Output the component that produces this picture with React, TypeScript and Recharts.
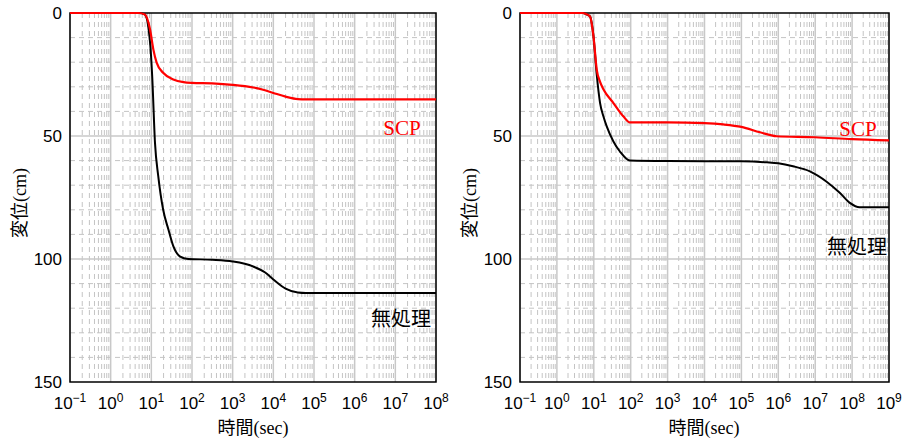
import {
  LineChart,
  Line,
  XAxis,
  YAxis,
  CartesianGrid,
  ReferenceArea,
} from "recharts";

// time in seconds, displacement in cm
const leftScpTime = [0.1, 5, 6.9, 9.3, 11.2, 13.5, 19.5, 34.7, 61.7, 100, 316, 1000, 3200, 5600, 1e4, 2e4, 4e4, 6.3e4, 1e8];
const leftScpDisp = [0, 0, 0.6, 6.7, 14.8, 20.2, 24.3, 27, 28.1, 28.4, 28.6, 29.2, 30.3, 31.2, 32.5, 34, 35, 35.1, 35.1];

const leftRawTime = [0.1, 5, 6.9, 9.3, 10.5, 12.3, 14.8, 19.5, 26.3, 34.7, 50, 81, 316, 1000, 3160, 6300, 1e4, 2e4, 4e4, 6.3e4, 1e8];
const leftRawDisp = [0, 0, 0.6, 12, 25.7, 52.8, 66.3, 79.9, 88, 94.8, 98.9, 100, 100.3, 101, 103, 105.5, 108.3, 112, 113.6, 113.8, 113.8];

const rightScpTime = [0.1, 5, 6.3, 7.9, 9.8, 12, 14.8, 18.2, 34, 63, 95, 1000, 1e4, 3.2e4, 1e5, 3.2e5, 9e5, 1e7, 1e8, 1e9];
const rightScpDisp = [0, 0, 0.5, 1.4, 9.5, 23, 28, 31, 36.6, 42, 44.5, 44.5, 44.8, 45.3, 46.3, 48.5, 50.1, 50.5, 51.3, 51.8];

const rightRawTime = [0.1, 5, 6.3, 7.9, 9.8, 12, 14.8, 18.2, 22.4, 34, 51, 95, 1000, 1e5, 4.9e5, 1e6, 2.5e6, 7.2e6, 2e7, 4.7e7, 8.7e7, 1.6e8, 1e9];
const rightRawDisp = [0, 0, 0.5, 1.4, 9.5, 25, 36.6, 42, 46.1, 52.2, 56.3, 60, 60.2, 60.3, 60.7, 61.1, 62.3, 64.4, 68.5, 73.2, 77.2, 79, 79];

const yTicks = [0, 50, 100, 150];
const leftDecades = [-1, 0, 1, 2, 3, 4, 5, 6, 7, 8];
const rightDecades = [-1, 0, 1, 2, 3, 4, 5, 6, 7, 8, 9];

const SERIF = '"Liberation Serif", "Noto Sans CJK JP", serif';
const SANS = '"Liberation Sans", Arial, sans-serif';

const toRows = (t: number[], d: number[]) => t.map((time, i) => ({ time, disp: d[i] }));

function XTick({ x, y, payload }: any) {
  const e = Math.round(Math.log10(payload.value));
  const label = e < 0 ? "\u2212" + Math.abs(e) : String(e);
  return (
    <text x={x} y={y + 19} textAnchor="middle" fontSize={17} fontFamily={SANS} fill="#000">
      <tspan>10</tspan>
      <tspan dy={-7} fontSize={12}>{label}</tspan>
    </text>
  );
}

function YTick({ x, y, payload }: any) {
  return (
    <text x={x} y={y + 6} textAnchor="end" fontSize={17} fontFamily={SANS} fill="#000">
      {payload.value}
    </text>
  );
}

function Panel({
  decades,
  scp,
  raw,
  width,
  yAxisWidth,
  rightMargin,
}: {
  decades: number[];
  scp: { time: number; disp: number }[];
  raw: { time: number; disp: number }[];
  width: number;
  yAxisWidth: number;
  rightMargin: number;
}) {
  const major = decades.map((d) => Math.pow(10, d));
  const minor: number[] = [];
  decades.slice(0, -1).forEach((d) => {
    for (let k = 2; k <= 9; k++) minor.push(k * Math.pow(10, d));
  });
  const xMin = major[0];
  const xMax = major[major.length - 1];
  return (
    <LineChart
      width={width}
      height={443}
      margin={{ top: 13, right: rightMargin, left: 0, bottom: 0 }}
    >
      <CartesianGrid
        stroke="#c4c4c4"
        strokeDasharray="5 4"
        horizontalValues={[10, 20, 30, 40, 60, 70, 80, 90, 110, 120, 130, 140]}
        verticalValues={minor}
      />
      <CartesianGrid
        stroke="#c8c8c8"
        strokeWidth={1.5}
        horizontalValues={[50, 100]}
        verticalValues={major}
      />
      <XAxis
        dataKey="time"
        type="number"
        scale="log"
        domain={[xMin, xMax]}
        ticks={major}
        allowDataOverflow
        height={61}
        axisLine={false}
        tickLine={false}
        tick={<XTick />}
        interval={0}
      />
      <YAxis
        dataKey="disp"
        type="number"
        domain={[0, 150]}
        ticks={yTicks}
        reversed
        width={yAxisWidth}
        axisLine={false}
        tickLine={false}
        tick={<YTick />}
        interval={0}
      />
      <ReferenceArea
        x1={xMin}
        x2={xMax}
        y1={0}
        y2={150}
        fill="none"
        stroke="#000"
        strokeWidth={1.5}
        ifOverflow="visible"
      />
      <Line
        data={raw}
        dataKey="disp"
        type="monotone"
        stroke="#000"
        strokeWidth={2}
        dot={false}
        isAnimationActive={false}
      />
      <Line
        data={scp}
        dataKey="disp"
        type="monotone"
        stroke="#ff0000"
        strokeWidth={2.2}
        dot={false}
        isAnimationActive={false}
      />
    </LineChart>
  );
}

const abs = (left: number, top: number, extra: any = {}) => ({
  position: "absolute" as const,
  left,
  top,
  transform: "translate(-50%, -50%)",
  whiteSpace: "nowrap" as const,
  fontFamily: SERIF,
  lineHeight: 1,
  ...extra,
});

export default function App() {
  return (
    <div style={{ position: "absolute", left: 0, top: 0, width: 917, height: 443, background: "#fff" }}>
      <div style={{ position: "absolute", left: 0, top: 0 }}>
        <Panel
          decades={leftDecades}
          scp={toRows(leftScpTime, leftScpDisp)}
          raw={toRows(leftRawTime, leftRawDisp)}
          width={460}
          yAxisWidth={70}
          rightMargin={24}
        />
      </div>
      <div style={{ position: "absolute", left: 460, top: 0 }}>
        <Panel
          decades={rightDecades}
          scp={toRows(rightScpTime, rightScpDisp)}
          raw={toRows(rightRawTime, rightRawDisp)}
          width={457}
          yAxisWidth={60}
          rightMargin={28}
        />
      </div>
      <div style={abs(20, 203, { fontSize: 18, transform: "translate(-50%, -50%) rotate(-90deg)" })}>変位(cm)</div>
      <div style={abs(470, 203, { fontSize: 18, transform: "translate(-50%, -50%) rotate(-90deg)" })}>変位(cm)</div>
      <div style={abs(253, 428, { fontSize: 18 })}>時間(sec)</div>
      <div style={abs(704, 428, { fontSize: 18 })}>時間(sec)</div>
      <div style={abs(402, 128, { fontSize: 21, color: "#ff0000" })}>SCP</div>
      <div style={abs(401, 319, { fontSize: 20 })}>無処理</div>
      <div style={abs(858, 129, { fontSize: 21, color: "#ff0000" })}>SCP</div>
      <div style={abs(857, 247, { fontSize: 20 })}>無処理</div>
    </div>
  );
}
